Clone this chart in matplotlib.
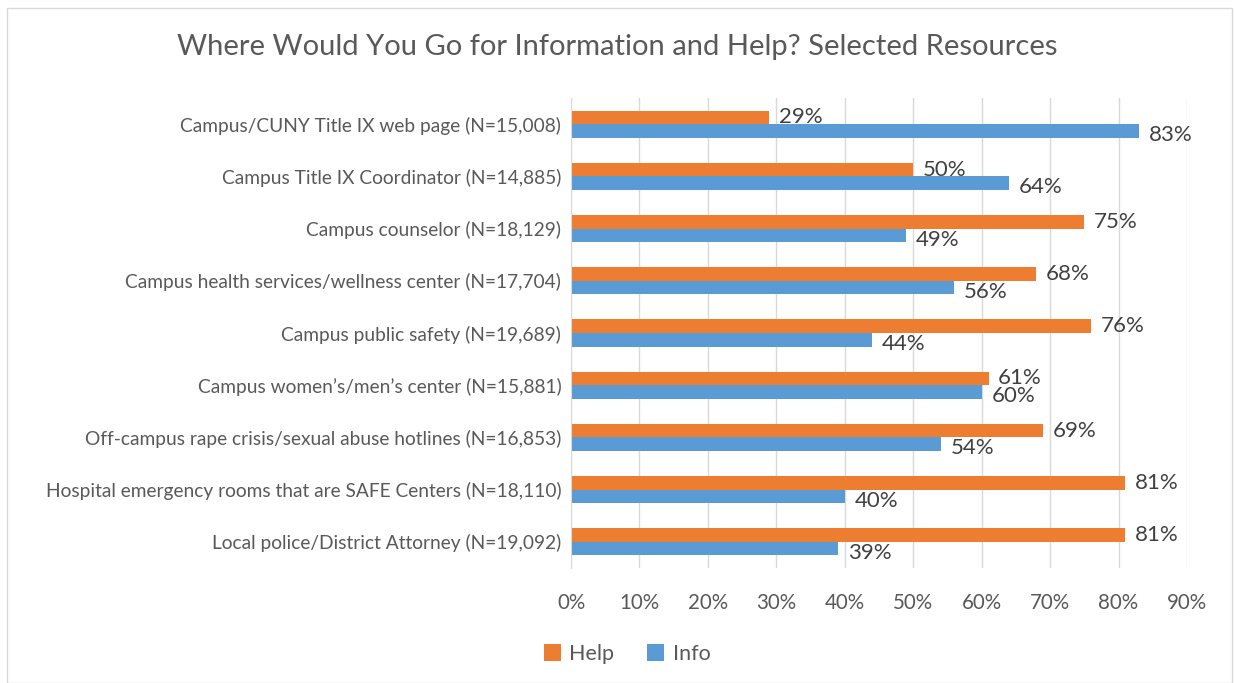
import matplotlib.pyplot as plt
import numpy as np
from matplotlib.patches import Rectangle
from matplotlib.ticker import FuncFormatter

categories = [
    "Campus/CUNY Title IX web page (N=15,008)",
    "Campus Title IX Coordinator (N=14,885)",
    "Campus counselor (N=18,129)",
    "Campus health services/wellness center (N=17,704)",
    "Campus public safety (N=19,689)",
    "Campus women\u2019s/men\u2019s center (N=15,881)",
    "Off-campus rape crisis/sexual abuse hotlines (N=16,853)",
    "Hospital emergency rooms that are SAFE Centers (N=18,110)",
    "Local police/District Attorney (N=19,092)",
]
help_vals = [29, 50, 75, 68, 76, 61, 69, 81, 81]
info_vals = [83, 64, 49, 56, 44, 60, 54, 40, 39]

plt.rcParams['font.family'] = ['Lato', 'DejaVu Sans']

fig = plt.figure(figsize=(12.34, 6.83), dpi=100)
# light border round the chart area
fig.patches.append(Rectangle((7 / 1234, 0), 1 - 9 / 1234, 1 - 8 / 683, transform=fig.transFigure,
                             fill=False, edgecolor="#D9D9D9", linewidth=1))

ax = fig.add_axes([571 / 1234, 1 - 568 / 683, 616 / 1234, 470 / 683])

y = np.arange(len(categories))
h = 0.26
ax.barh(y - h / 2, help_vals, height=h, color="#ED7D31", label="Help")
ax.barh(y + h / 2, info_vals, height=h, color="#5B9BD5", label="Info")

# data labels, nudged apart a little where Help and Info are close
for i in range(len(categories)):
    ax.annotate(f"{help_vals[i]}%", (help_vals[i], y[i] - h / 2), xytext=(7, 0),
                textcoords="offset points", va="center", ha="left", fontsize=16, color="#404040")
    ax.annotate(f"{info_vals[i]}%", (info_vals[i], y[i] + h / 2), xytext=(7, -3),
                textcoords="offset points", va="center", ha="left", fontsize=16, color="#404040")

ax.set_xlim(0, 90)
ax.set_ylim(len(categories) - 0.5, -0.5)
ax.set_xticks(range(0, 91, 10))
ax.xaxis.set_major_formatter(FuncFormatter(lambda v, p: f"{v:.0f}%"))
ax.set_yticks(y)
ax.set_yticklabels(categories)
ax.tick_params(axis="both", length=0, colors="#595959", labelsize=13.8)
ax.tick_params(axis="x", pad=18, labelsize=14.8)
ax.tick_params(axis="y", pad=7)
ax.grid(axis="x", color="#D9D9D9", linewidth=1)
ax.set_axisbelow(True)
for s in ["top", "right", "bottom"]:
    ax.spines[s].set_visible(False)
ax.spines["left"].set_color("#D9D9D9")

fig.text(0.5, 1 - 47 / 683, "Where Would You Go for Information and Help? Selected Resources",
         ha="center", va="center", fontsize=21, color="#595959")

fig.legend(loc="center", bbox_to_anchor=(627 / 1234, 1 - 654 / 683), ncol=2, frameon=False,
           handlelength=0.8, handleheight=0.8, handletextpad=0.4, columnspacing=1.5,
           fontsize=15.5, labelcolor="#595959")

fig.savefig("out.png", dpi=100)
